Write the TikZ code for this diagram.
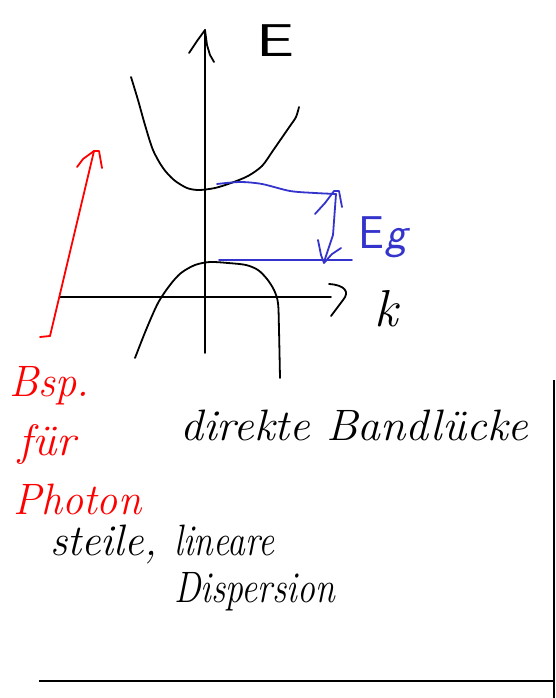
\documentclass[tikz,border=0pt]{standalone}
\usepackage{fontspec}
\definecolor{penblue}{RGB}{52,52,204}
\definecolor{penred}{RGB}{255,0,0}
\newcommand{\hwtext}[2]{\resizebox{#1pt}{\height}{\itshape #2}}
\begin{document}
\begin{tikzpicture}[x=1pt,y=-1pt,
  hand/.style={line width=1.8pt, line cap=round, line join=round},
  hwlabel/.style={inner sep=0pt, anchor=base west, font=\fontsize{44}{48}\selectfont}]
\useasboundingbox (0,0) rectangle (555,698);
\fill[white] (0,0) rectangle (555,698);

% axes
\coordinate (ybot) at (205,353);
\coordinate (ytop) at (205,30);
\draw[hand] (ybot) -- (ytop);
\draw[hand] (189,53) -- (197,41) -- (ytop) -- (207,45) -- (210,55) -- (214,62);
\coordinate (xleft) at (60,297);
\coordinate (xright) at (331,297);
\draw[hand] (xleft) -- (xright);
\draw[hand] (329,284) .. controls (345,285) and (350,292) .. (343,300) -- (331,316);

\node[hwlabel, anchor=base west, font=\fontsize{46}{50}\selectfont\sffamily] (E) at (256,57) {\resizebox{38pt}{\height}{E}};
\node[hwlabel, anchor=base, font=\fontsize{52}{56}\selectfont\itshape] (k) at (386,326) {k};

% bands
\draw[hand] plot[smooth, tension=0.5] coordinates {(131,77) (138,100) (145,125) (153,150) (163,168) (174,180) (187,188) (199,190) (215,188) (231,183) (248,176) (262,166) (272,152) (281,139) (290,126) (296,117) (299,107)};
\draw[hand] plot[smooth, tension=0.5] coordinates {(135,358) (146,330) (158,303) (170,285) (181,273) (195,265) (210,262) (228,263) (246,265) (258,270) (267,279) (274,290) (278,303) (279,330) (280,378)};

% band gap (blue)
\coordinate (cb) at (217,184);
\coordinate (cbend) at (336,194);
\draw[hand, penblue] plot[smooth, tension=0.5] coordinates {(cb) (240,182) (262,184) (290,191) (315,193) (cbend)};
\coordinate (vb) at (219,260);
\coordinate (vbend) at (352,260);
\draw[hand, penblue] (vb) -- (vbend);
\draw[hand, penblue] (cbend) -- (333,235) -- (324,262);
\draw[hand, penblue] (315,214) -- (325,203) -- (334,191) -- (339,191) -- (342,207);
\draw[hand, penblue] (318,240) -- (321,255) -- (324,263) -- (332,254) -- (341,248);
\node[hwlabel, anchor=base west, text=penblue, font=\fontsize{46}{50}\selectfont\sffamily] (Eg) at (358,248) {E\kern1pt\itshape g};

% photon arrow (red)
\coordinate (pbot) at (50,336);
\coordinate (ptop) at (94,151);
\draw[hand, penred] (pbot) -- (ptop);
\draw[hand, penred] (77,167) -- (83,159) -- (ptop) -- (99,151) -- (102,168);
\draw[hand, penred] (40,337) -- (pbot);

% red text
\node[hwlabel, text=penred] (bsp) at (9,396) {\hwtext{80}{Bsp.}};
\node[hwlabel, text=penred] (fuer) at (18,455) {\hwtext{57}{für}};
\node[hwlabel, text=penred] (photon) at (13,514) {\hwtext{128}{Photon}};

% black text
\node[hwlabel] (direkt) at (180,440) {\hwtext{348}{direkte Bandlücke}};
\node[hwlabel] (steile) at (50,555) {\hwtext{107}{steile,}};
\node[hwlabel] (linear) at (174,555) {\hwtext{100}{lineare}};
\node[hwlabel] (disp) at (174,602) {\hwtext{161}{Dispersion}};

% frame
\coordinate (fr1) at (554,380);
\coordinate (fr2) at (554,698);
\coordinate (fb1) at (39,681);
\coordinate (fb2) at (554,681);
\draw[line width=1.8pt] (fr1) -- (fr2);
\draw[line width=1.8pt] (fb1) -- (fb2);
\end{tikzpicture}
\end{document}
